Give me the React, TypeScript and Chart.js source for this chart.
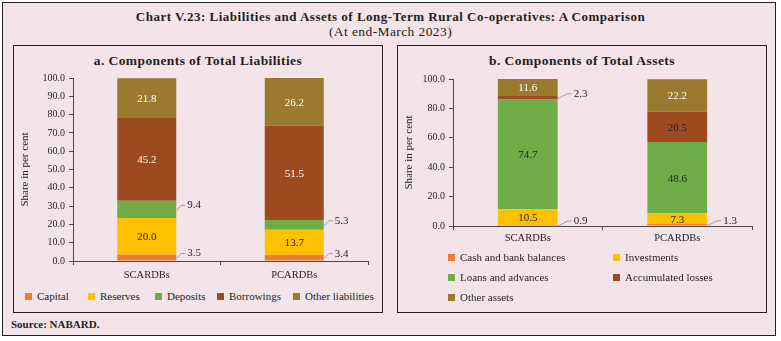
import React, { useEffect, useRef } from 'react';
import { Chart, registerables } from 'chart.js';

Chart.register(...registerables);

// ---------- data ----------
const CATEGORIES = ['SCARDBs', 'PCARDBs'];

const LIAB_SERIES = ['Capital', 'Reserves', 'Deposits', 'Borrowings', 'Other liabilities'];
const LIAB_CAPITAL = [3.5, 3.4];
const LIAB_RESERVES = [20.0, 13.7];
const LIAB_DEPOSITS = [9.4, 5.3];
const LIAB_BORROWINGS = [45.2, 51.5];
const LIAB_OTHER = [21.8, 26.2];

const ASSET_SERIES = ['Cash and bank balances', 'Investments', 'Loans and advances', 'Accumulated losses', 'Other assets'];
const ASSET_CASH = [0.9, 1.3];
const ASSET_INVESTMENTS = [10.5, 7.3];
const ASSET_LOANS = [74.7, 48.6];
const ASSET_ACCUMULATED = [2.3, 20.5];
const ASSET_OTHER = [11.6, 22.2];

const LIAB_TICK_STEP = 10;
const ASSET_TICK_STEP = 20;
const Y_MIN = 0;
const Y_MAX = 100;

// ---------- styles ----------
const SERIES_COLORS = ['#ED7D31', '#FFC000', '#70AD47', '#9E4A21', '#9A7A2E'];
const LIAB_LABEL_COLORS = ['#231F20', '#231F20', '#231F20', '#FFFFFF', '#FFFFFF'];
const ASSET_LABEL_COLORS = ['#231F20', '#231F20', '#231F20', '#231F20', '#FFFFFF'];
const BG = '#F3E4EA';
const INK = '#231F20';
const FONT = "'Liberation Serif', 'Times New Roman', serif";

const segLabelPlugin = {
  id: 'segLabels',
  afterDatasetsDraw(chart: any, _args: any, opts: any) {
    const ctx = chart.ctx;
    ctx.save();
    ctx.font = `11px ${FONT}`;
    ctx.textBaseline = 'middle';
    chart.data.datasets.forEach((ds: any, i: number) => {
      const meta = chart.getDatasetMeta(i);
      meta.data.forEach((bar: any, j: number) => {
        const v = ds.data[j];
        const p = bar.getProps(['x', 'y', 'base', 'width'], true);
        const cy = (p.y + p.base) / 2;
        const txt = v.toFixed(1);
        if (v < opts.threshold) {
          const r = p.x + p.width / 2;
          const ty = cy - 4;
          ctx.strokeStyle = '#9B9B9B';
          ctx.lineWidth = 1;
          ctx.beginPath();
          ctx.moveTo(r, cy + 1);
          ctx.lineTo(r + opts.diag, ty);
          ctx.lineTo(r + opts.lead, ty);
          ctx.stroke();
          ctx.fillStyle = INK;
          ctx.textAlign = 'left';
          ctx.fillText(txt, r + opts.lead + 2, ty);
        } else {
          ctx.fillStyle = opts.colors[i];
          ctx.textAlign = 'center';
          ctx.fillText(txt, p.x, cy + 1);
        }
      });
    });
    ctx.restore();
  },
};

type StackProps = {
  left: number;
  top: number;
  width: number;
  height: number;
  yWidth: number;
  series: string[];
  values: number[][];
  step: number;
  threshold: number;
  labelColors: string[];
  diag: number;
  lead: number;
  titlePad: number;
  tickPad: number;
};

function StackChart(props: StackProps) {
  const ref = useRef<HTMLCanvasElement | null>(null);
  useEffect(() => {
    if (!ref.current) return;
    const axisColor = '#4A4A4A';
    const chart = new Chart(ref.current, {
      type: 'bar',
      data: {
        labels: CATEGORIES,
        datasets: props.series.map((name, i) => ({
          label: name,
          data: props.values[i],
          backgroundColor: SERIES_COLORS[i],
          borderWidth: 0,
          barPercentage: 0.4,
          categoryPercentage: 1.0,
        })),
      },
      options: {
        responsive: false,
        animation: false,
        maintainAspectRatio: false,
        layout: { padding: { top: 10, right: 12, left: 0, bottom: 0 } },
        plugins: {
          legend: { display: false },
          tooltip: { enabled: false },
          segLabels: {
            threshold: props.threshold,
            colors: props.labelColors,
            diag: props.diag,
            lead: props.lead,
          },
        } as any,
        scales: {
          x: {
            stacked: true,
            grid: { display: true, drawOnChartArea: false, drawTicks: true, tickLength: 4, color: axisColor, offset: true },
            border: { color: axisColor, width: 1 },
            ticks: { color: INK, font: { family: FONT, size: 10.5 }, padding: props.tickPad },
            afterFit: (s: any) => {
              s.height = 26;
            },
          },
          y: {
            stacked: true,
            min: Y_MIN,
            max: Y_MAX,
            grid: { display: true, drawOnChartArea: false, drawTicks: true, tickLength: 4, color: axisColor },
            border: { color: axisColor, width: 1 },
            ticks: {
              stepSize: props.step,
              color: INK,
              font: { family: FONT, size: 10 },
              padding: 4,
              callback: (v: any) => Number(v).toFixed(1),
            },
            title: {
              display: true,
              text: 'Share in per cent',
              color: INK,
              font: { family: FONT, size: 11 },
              padding: { top: props.titlePad, bottom: 0 },
            },
            afterFit: (s: any) => {
              s.width = props.yWidth;
            },
          },
        },
      },
      plugins: [segLabelPlugin as any],
    });
    return () => chart.destroy();
  }, []);
  return (
    <canvas
      ref={ref}
      width={props.width}
      height={props.height}
      style={{ position: 'absolute', left: props.left, top: props.top, width: props.width, height: props.height }}
    />
  );
}

function Swatch({ color }: { color: string }) {
  return <span style={{ display: 'inline-block', width: 7, height: 7, background: color, marginRight: 5 }} />;
}

export default function App() {
  const text = (s: React.CSSProperties): React.CSSProperties => ({
    position: 'absolute',
    fontFamily: FONT,
    color: INK,
    whiteSpace: 'nowrap',
    ...s,
  });
  const liabLegendLeft = [25, 88, 155, 217, 293];
  const assetLegendPos = [
    [448, 257],
    [613, 257],
    [448, 277],
    [613, 277],
    [448, 297],
  ];
  return (
    <div style={{ position: 'fixed', left: 0, top: 0, width: 781, height: 341, background: '#FFFFFF', overflow: 'hidden' }}>
      <div
        style={{
          position: 'absolute',
          left: 2,
          top: 2,
          width: 774,
          height: 334,
          boxSizing: 'border-box',
          border: `1.5px solid ${INK}`,
          background: BG,
        }}
      />
      <div style={text({ left: 0, width: 781, top: 9, textAlign: 'center', fontSize: 13, fontWeight: 'bold', lineHeight: '16px', letterSpacing: 0.5 })}>
        Chart V.23: Liabilities and Assets of Long-Term Rural Co-operatives: A Comparison
      </div>
      <div style={text({ left: 0, width: 781, top: 24, textAlign: 'center', fontSize: 13.5, lineHeight: '16px', letterSpacing: 0.4 })}>
        (At end-March 2023)
      </div>

      {/* panel a */}
      <div style={{ position: 'absolute', left: 13, top: 45, width: 370, height: 268, boxSizing: 'border-box', border: `1.5px solid ${INK}` }} />
      <div style={text({ left: 13, width: 370, top: 53, textAlign: 'center', fontSize: 13.5, fontWeight: 'bold', lineHeight: '16px', letterSpacing: 0.4 })}>
        a. Components of Total Liabilities
      </div>
      <StackChart
        left={15}
        top={68}
        width={365}
        height={219}
        yWidth={58}
        series={LIAB_SERIES}
        values={[LIAB_CAPITAL, LIAB_RESERVES, LIAB_DEPOSITS, LIAB_BORROWINGS, LIAB_OTHER]}
        step={LIAB_TICK_STEP}
        threshold={10}
        labelColors={LIAB_LABEL_COLORS}
        diag={5}
        lead={9}
        titlePad={4}
        tickPad={4}
      />
      {LIAB_SERIES.map((name, i) => (
        <div key={name} style={text({ left: liabLegendLeft[i], top: 289, fontSize: 11, lineHeight: '14px', display: 'flex', alignItems: 'center' })}>
          <Swatch color={SERIES_COLORS[i]} />
          {name}
        </div>
      ))}

      {/* panel b */}
      <div style={{ position: 'absolute', left: 397, top: 45, width: 370, height: 268, boxSizing: 'border-box', border: `1.5px solid ${INK}` }} />
      <div style={text({ left: 397, width: 370, top: 53, textAlign: 'center', fontSize: 13.5, fontWeight: 'bold', lineHeight: '16px', letterSpacing: 0.45 })}>
        b. Components of Total Assets
      </div>
      <StackChart
        left={398}
        top={69}
        width={366}
        height={183}
        yWidth={55}
        series={ASSET_SERIES}
        values={[ASSET_CASH, ASSET_INVESTMENTS, ASSET_LOANS, ASSET_ACCUMULATED, ASSET_OTHER]}
        step={ASSET_TICK_STEP}
        threshold={5}
        labelColors={ASSET_LABEL_COLORS}
        diag={10}
        lead={14}
        titlePad={5}
        tickPad={2}
      />
      {ASSET_SERIES.map((name, i) => (
        <div
          key={name}
          style={text({ left: assetLegendPos[i][0], top: assetLegendPos[i][1] - 7, fontSize: 11, lineHeight: '14px', display: 'flex', alignItems: 'center' })}
        >
          <Swatch color={SERIES_COLORS[i]} />
          {name}
        </div>
      ))}

      <div style={text({ left: 11, top: 317, fontSize: 11, fontWeight: 'bold', lineHeight: '14px' })}>Source: NABARD.</div>
    </div>
  );
}
